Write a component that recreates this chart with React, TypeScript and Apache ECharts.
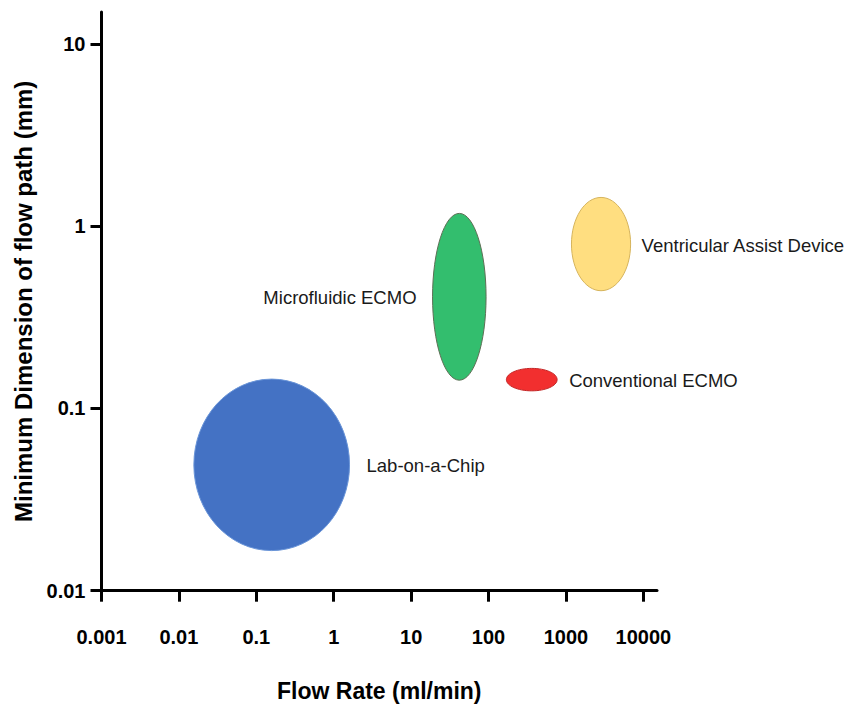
import React, { useEffect, useRef } from "react";
import * as echarts from "echarts";

// Regions: flow-rate range (ml/min) and minimum flow-path dimension range (mm)
const names = ["Lab-on-a-Chip", "Microfluidic ECMO", "Ventricular Assist Device", "Conventional ECMO"];
const flowMin = [0.0156, 18.9, 1178, 170];
const flowMax = [1.6, 92.9, 6840, 769];
const dimMin = [0.0166, 0.143, 0.443, 0.125];
const dimMax = [0.145, 1.177, 1.44, 0.166];

const xTicks = [0.001, 0.01, 0.1, 1, 10, 100, 1000, 10000];
const yTicks = [0.01, 0.1, 1, 10];

// styles (not data)
const fills = ["#4472C4", "#33BE6E", "#FFDE80", "#F22F2F"];
const strokes = ["#6a95d8", "#5d6f55", "#d6b45c", "#c42424"];
const labelSide = ["right", "left", "right", "right"];
const labelGap = [17, 16, 11, 12];

const FONT = "'Liberation Sans', Arial, Helvetica, sans-serif";

const fmt = (v: number) => String(Number(Number(v).toPrecision(6)));

export default function App() {
  const ref = useRef<HTMLDivElement>(null);
  useEffect(() => {
    if (!ref.current) return;
    const chart = echarts.init(ref.current, undefined, { renderer: "svg" });
    const data = names.map((n, i) => [flowMin[i], flowMax[i], dimMin[i], dimMax[i], i]);
    chart.setOption({
      animation: false,
      backgroundColor: "#ffffff",
      grid: { left: 101.5, right: 193, top: 12, bottom: 118.3, containLabel: false },
      xAxis: {
        type: "log",
        logBase: 10,
        min: 0.001,
        max: 15000,
        name: "Flow Rate (ml/min)",
        nameLocation: "middle",
        nameGap: 89,
        nameTextStyle: { fontSize: 23, fontWeight: "bold", color: "#000", fontFamily: FONT },
        axisLine: { show: true, lineStyle: { color: "#000", width: 3 } },
        axisTick: { show: true, length: 11, lineStyle: { color: "#000", width: 3 }, customValues: xTicks },
        minorTick: { show: false },
        splitLine: { show: false },
        axisLabel: {
          customValues: xTicks,
          fontSize: 20,
          fontWeight: "bold",
          color: "#000",
          fontFamily: FONT,
          margin: 36,
          formatter: (v: number) => fmt(v),
        },
      },
      yAxis: {
        type: "log",
        logBase: 10,
        min: 0.01,
        max: 15,
        name: "Minimum Dimension of flow path (mm)",
        nameLocation: "middle",
        nameGap: 63,
        nameRotate: 90,
        nameTextStyle: { fontSize: 24, fontWeight: "bold", color: "#000", fontFamily: FONT },
        axisLine: { show: true, lineStyle: { color: "#000", width: 3 } },
        axisTick: { show: true, length: 11, lineStyle: { color: "#000", width: 3 }, customValues: yTicks },
        minorTick: { show: false },
        splitLine: { show: false },
        axisLabel: {
          customValues: yTicks,
          fontSize: 20,
          fontWeight: "bold",
          color: "#000",
          fontFamily: FONT,
          margin: 16,
          formatter: (v: number) => fmt(v),
        },
      },
      series: [
        {
          type: "custom",
          encode: { x: [0, 1], y: [2, 3] },
          data,
          renderItem: (params: any, api: any) => {
            const i = api.value(4);
            const p1 = api.coord([api.value(0), api.value(3)]);
            const p2 = api.coord([api.value(1), api.value(2)]);
            const cx = (p1[0] + p2[0]) / 2;
            const cy = (p1[1] + p2[1]) / 2;
            const rx = Math.abs(p2[0] - p1[0]) / 2;
            const ry = Math.abs(p2[1] - p1[1]) / 2;
            const side = labelSide[i];
            const tx = side === "right" ? cx + rx + labelGap[i] : cx - rx - labelGap[i];
            return {
              type: "group",
              children: [
                {
                  type: "ellipse",
                  shape: { cx, cy, rx, ry },
                  style: { fill: fills[i], stroke: strokes[i], lineWidth: 1 },
                },
                {
                  type: "text",
                  x: tx,
                  y: cy + 1,
                  style: {
                    text: names[i],
                    fill: "#1a1a1a",
                    fontSize: 18.5,
                    fontFamily: FONT,
                    align: side === "right" ? "left" : "right",
                    verticalAlign: "middle",
                  },
                },
              ],
            };
          },
        },
      ],
    });
    return () => chart.dispose();
  }, []);
  return (
    <div
      ref={ref}
      style={{ position: "fixed", left: 0, top: 0, width: 850, height: 709, background: "#fff" }}
    />
  );
}
